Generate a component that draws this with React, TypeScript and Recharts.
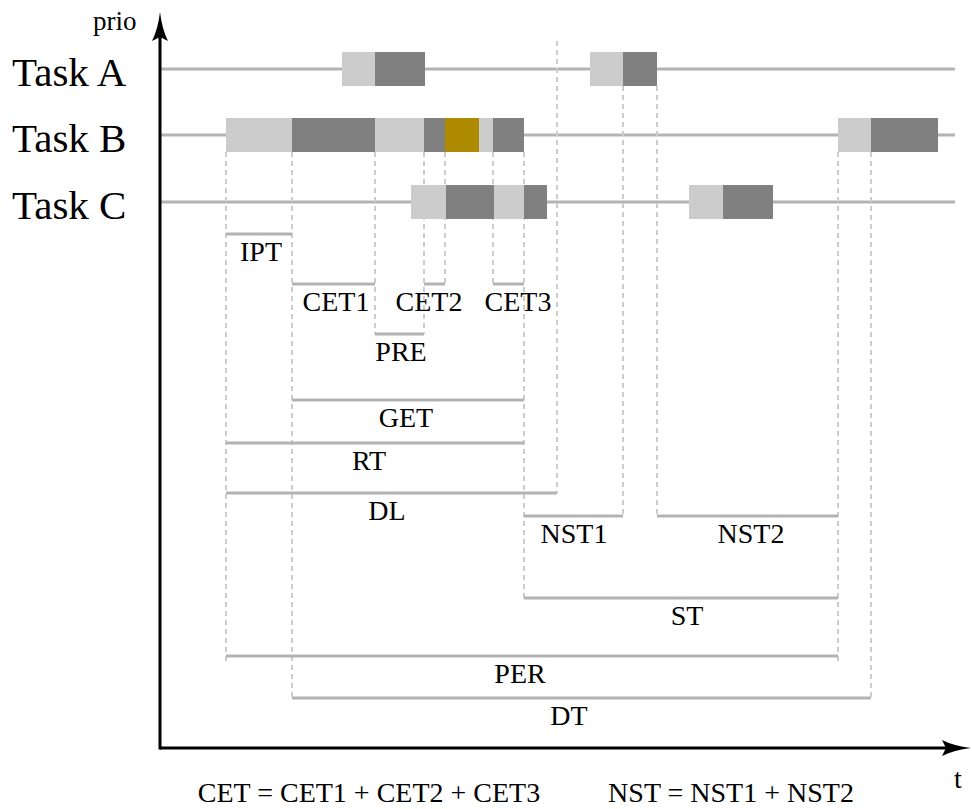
import React from "react";
import {
  ComposedChart,
  XAxis,
  YAxis,
  ReferenceArea,
  ReferenceLine,
  ReferenceDot,
} from "recharts";

// time runs from the prio axis (t = 0) to the right
const taskNames = ["Task A", "Task B", "Task C"];

// [from, to, kind] per task; kind: ready = waiting, run = executing, mark = highlighted run
const taskASlices: [number, number, string][] = [
  [182, 215, "ready"],
  [215, 265, "run"],
  [430, 463, "ready"],
  [463, 497, "run"],
];
const taskBSlices: [number, number, string][] = [
  [66, 132, "ready"],
  [132, 215, "run"],
  [215, 264, "ready"],
  [264, 285, "run"],
  [285, 319, "mark"],
  [319, 333, "ready"],
  [333, 364, "run"],
  [678, 711, "ready"],
  [711, 778, "run"],
];
const taskCSlices: [number, number, string][] = [
  [251, 286, "ready"],
  [286, 334, "run"],
  [334, 364, "ready"],
  [364, 387, "run"],
  [529, 563, "ready"],
  [563, 613, "run"],
];

// interval annotations: name, from, to, lane, where the label sits
const measureNames = ["IPT", "CET1", "CET2", "CET3", "PRE", "GET", "RT", "DL", "NST1", "NST2", "ST", "PER", "DT"];
const measureFrom = [66, 132, 264, 333, 215, 132, 66, 66, 364, 497, 364, 66, 132];
const measureTo = [132, 215, 285, 364, 264, 364, 364, 397, 463, 678, 678, 678, 711];
const measureLane = ["ipt", "cet", "cet", "cet", "pre", "get", "rt", "dl", "nst", "nst", "st", "per", "dt"];
const measureLabelAt = [101, 176, 269, 358, 241, 246, 209, 227, 414, 591, 527, 360, 409];

// dashed guide lines: time, top lane, bottom lane
const guideTimes = [66, 132, 215, 264, 285, 333, 364, 397, 463, 497, 678, 711];
const guideTop = ["B", "B", "B", "B", "B", "B", "B", "top", "A", "A", "B", "B"];
const guideBottom = ["perEnd", "dt", "pre", "pre", "cet", "cet", "st", "dl", "nst", "nst", "perEnd", "dt"];

const formulas = ["CET = CET1 + CET2 + CET3", "NST = NST1 + NST2"];

// layout (vertical levels, px from top)
const LANE: Record<string, number> = {
  top: 41,
  A: 69,
  B: 135,
  C: 202,
  ipt: 234,
  cet: 284,
  pre: 334,
  get: 400,
  rt: 443,
  dl: 493,
  nst: 516,
  st: 598,
  per: 656,
  perEnd: 665,
  dt: 698,
  axis: 748,
};
const rowKeys = ["A", "B", "C"];
const HALF = 17;
const W = 972;
const H = 809;
const X0 = 160;

const FILL: Record<string, string> = {
  ready: "#cccccc",
  run: "#808080",
  mark: "#ad8a00",
};
const FONT = '"Liberation Serif", "Times New Roman", Times, serif';
const GRAY = "#b3b3b3";

const textShape =
  (label: string, dy: number, size: number, anchor: "start" | "middle" | "end") =>
  (p: any) =>
    (
      <text
        x={p.cx}
        y={p.cy + dy}
        fontSize={size}
        fontFamily={FONT}
        textAnchor={anchor}
        fill="#000"
      >
        {label}
      </text>
    );

const upArrow = (p: any) => (
  <path
    d={`M${p.cx},${p.cy} Q${p.cx + 2},${p.cy + 17} ${p.cx + 8},${p.cy + 29} L${p.cx},${p.cy + 25} L${p.cx - 8},${p.cy + 29} Q${p.cx - 2},${p.cy + 17} ${p.cx},${p.cy} Z`}
    fill="#000"
  />
);
const rightArrow = (p: any) => (
  <path
    d={`M${p.cx},${p.cy} Q${p.cx - 17},${p.cy - 2} ${p.cx - 29},${p.cy - 8} L${p.cx - 25},${p.cy} L${p.cx - 29},${p.cy + 8} Q${p.cx - 17},${p.cy + 2} ${p.cx},${p.cy} Z`}
    fill="#000"
  />
);

export default function App() {
  const allSlices = [taskASlices, taskBSlices, taskCSlices];

  return (
    <div style={{ position: "absolute", left: 0, top: 0, background: "#fff" }}>
      <ComposedChart
        width={W}
        height={H}
        margin={{ top: 0, right: 0, bottom: 0, left: 0 }}
      >
        <XAxis
          type="number"
          dataKey="t"
          domain={[-X0, W - X0]}
          allowDataOverflow
          hide
        />
        <YAxis type="number" domain={[0, H]} reversed allowDataOverflow hide />

        {/* task timelines */}
        {rowKeys.map((k) => (
          <ReferenceLine
            key={`row-${k}`}
            segment={[
              { x: 0, y: LANE[k] },
              { x: 795, y: LANE[k] },
            ]}
            stroke={GRAY}
            strokeWidth={3}
            zIndex={40}
          />
        ))}

        {/* dashed guides */}
        {guideTimes.map((t, i) => (
          <ReferenceLine
            key={`guide-${i}`}
            segment={[
              { x: t, y: guideTop[i] === "top" ? LANE.top : LANE[guideTop[i]] + HALF },
              { x: t, y: LANE[guideBottom[i]] },
            ]}
            stroke="#cccccc"
            strokeWidth={2}
            strokeDasharray="5 4"
            zIndex={50}
          />
        ))}

        {/* execution slices */}
        {allSlices.map((slices, r) =>
          slices.map(([from, to, kind], i) => (
            <ReferenceArea
              key={`slice-${r}-${i}`}
              x1={from}
              x2={to}
              y1={LANE[rowKeys[r]] - HALF}
              y2={LANE[rowKeys[r]] + HALF}
              fill={FILL[kind]}
              fillOpacity={1}
              stroke="none"
              zIndex={100}
            />
          ))
        )}

        {/* interval annotations */}
        {measureNames.map((name, i) => (
          <ReferenceLine
            key={`m-${name}`}
            segment={[
              { x: measureFrom[i], y: LANE[measureLane[i]] },
              { x: measureTo[i], y: LANE[measureLane[i]] },
            ]}
            stroke={GRAY}
            strokeWidth={3}
            zIndex={400}
          />
        ))}

        {/* axes */}
        <ReferenceLine
          segment={[
            { x: 0, y: LANE.axis + 1.5 },
            { x: 0, y: 30 },
          ]}
          stroke="#000"
          strokeWidth={3}
          zIndex={500}
        />
        <ReferenceLine
          segment={[
            { x: 0, y: LANE.axis },
            { x: 795, y: LANE.axis },
          ]}
          stroke="#000"
          strokeWidth={3}
          zIndex={500}
        />
        <ReferenceDot x={0} y={12} r={0} shape={upArrow} zIndex={500} />
        <ReferenceDot x={W - X0 - 1} y={LANE.axis} r={0} shape={rightArrow} zIndex={500} />

        {/* texts */}
        {taskNames.map((name, i) => (
          <ReferenceDot
            key={`tn-${name}`}
            x={12 - X0}
            y={LANE[rowKeys[i]]}
            r={0}
            shape={textShape(name, 17, 41, "start")}
            zIndex={600}
          />
        ))}
        {measureNames.map((name, i) => (
          <ReferenceDot
            key={`ml-${name}`}
            x={measureLabelAt[i]}
            y={LANE[measureLane[i]]}
            r={0}
            shape={textShape(name, 27, 28, "middle")}
            zIndex={600}
          />
        ))}
        <ReferenceDot x={93 - X0} y={30} r={0} shape={textShape("prio", 0, 27, "start")} zIndex={600} />
        <ReferenceDot x={958 - X0} y={788} r={0} shape={textShape("t", 0, 28, "middle")} zIndex={600} />
        <ReferenceDot x={369 - X0} y={802} r={0} shape={textShape(formulas[0], 0, 28, "middle")} zIndex={600} />
        <ReferenceDot x={731 - X0} y={802} r={0} shape={textShape(formulas[1], 0, 28, "middle")} zIndex={600} />
      </ComposedChart>
    </div>
  );
}
